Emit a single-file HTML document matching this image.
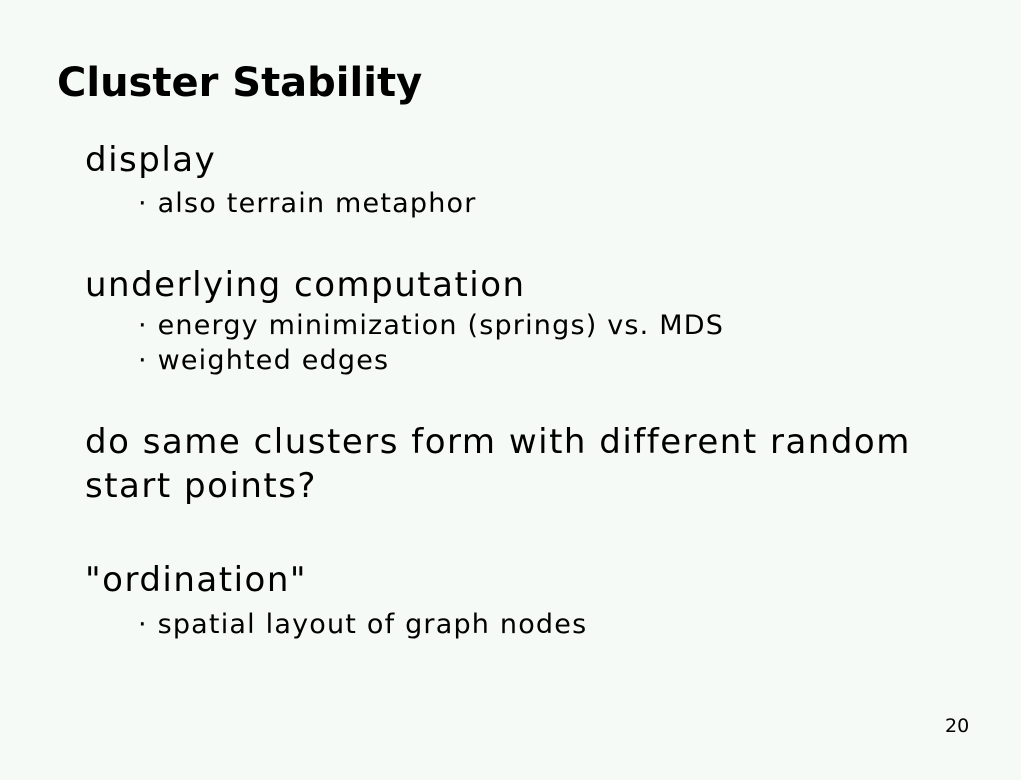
<!DOCTYPE html>
<html><head><style>
body{margin:0;width:1021px;height:780px;background:#f6faf6;position:relative;overflow:hidden;font-family:"DejaVu Sans","Liberation Sans",sans-serif;color:#000}
div{position:absolute;line-height:1;white-space:nowrap}
.t{font-weight:bold;font-size:40px;left:57px;letter-spacing:0px}
.m{font-size:34px;left:85px;letter-spacing:1.5px}
.s{font-size:27px;left:138px;letter-spacing:1.2px}
</style></head><body>
<div class="t" style="top:63px">Cluster Stability</div>
<div class="m" style="top:143px">display</div>
<div class="s" style="top:190px">· also terrain metaphor</div>
<div class="m" style="top:268px">underlying computation</div>
<div class="s" style="top:312px">· energy minimization (springs) vs. MDS</div>
<div class="s" style="top:347px">· weighted edges</div>
<div class="m" style="top:425px">do same clusters form with different random</div>
<div class="m" style="top:469px">start points?</div>
<div class="m" style="top:563px">"ordination"</div>
<div class="s" style="top:611px">· spatial layout of graph nodes</div>
<div style="font-size:19px;left:945px;top:717px">20</div>
</body></html>
